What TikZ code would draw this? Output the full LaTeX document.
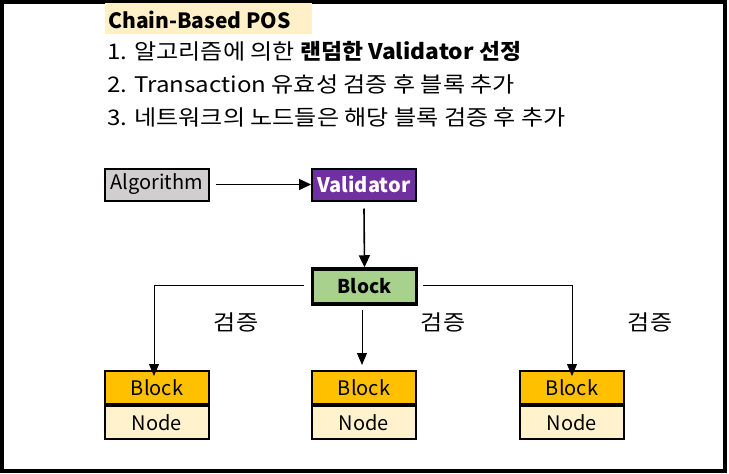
\documentclass[tikz,border=0pt]{standalone}
\usepackage{fontspec}
\setmainfont{Noto Sans CJK KR}
\newfontfamily\widefont[FakeStretch=1.12]{Noto Sans CJK KR}
\newfontfamily\semiwidefont[FakeStretch=1.06]{Noto Sans CJK KR}
\usetikzlibrary{arrows.meta}
\definecolor{titlebg}{HTML}{FFF0C8}
\definecolor{algbg}{HTML}{D0CECE}
\definecolor{valbg}{HTML}{7030A0}
\definecolor{blkbg}{HTML}{A9D18E}
\definecolor{orgbg}{HTML}{FFC000}
\definecolor{nodebg}{HTML}{FFF2CC}
\tikzset{
  txt/.style={font=\widefont\fontsize{21.5}{24}\selectfont, inner sep=0pt, anchor=base west},
  boxtxt/.style={font=\fontsize{20}{22}\selectfont},
  topbox/.style={draw=black, line width=2pt, minimum width=104pt, minimum height=32pt, inner sep=0pt, boxtxt},
  lowbox/.style={draw=black, line width=2pt, minimum width=104pt, minimum height=33pt, inner sep=0pt, boxtxt},
  bigarrow/.style={line width=1.6pt, -{Triangle[length=12pt,width=11pt]}},
  thinarrow/.style={line width=1pt, -{Triangle[length=12pt,width=10pt]}},
  lbl/.style={font=\widefont\fontsize{21.5}{24}\selectfont, inner sep=0pt}
}
\begin{document}
\begin{tikzpicture}[x=1pt,y=-1pt]
\useasboundingbox (0,0) rectangle (729,474);
\draw[line width=4pt] (2,2) rectangle (725,471);
% title
\node[fill=titlebg, anchor=north west, minimum width=207pt, minimum height=31pt, inner sep=0pt] (titlebox) at (105,3) {};
\node[inner sep=0pt, anchor=base west, font=\fontsize{21}{24}\selectfont\bfseries] (title) at (108,28) {Chain-Based POS};
\node[txt] (l1) at (107,59) {1. 알고리즘에 의한 {\semiwidefont\bfseries 랜덤한 Validator 선정}};
\node[txt] (l2) at (107,92) {2. Transaction 유효성 검증 후 블록 추가};
\node[txt] (l3) at (107,125) {3. 네트워크의 노드들은 해당 블록 검증 후 추가};
% flow
\node[topbox, fill=algbg] (alg) at (156.5,184.5) {Algorithm};
\node[topbox, fill=valbg, text=white, font=\fontsize{20}{22}\selectfont\bfseries] (val) at (364,184.5) {Validator};
\node[topbox, fill=blkbg, line width=3.5pt, minimum height=35pt, font=\fontsize{19}{22}\selectfont\bfseries] (blk) at (364.5,286.5) {Block};
\draw[bigarrow] (alg.east) ++(6,0) coordinate (a1) -- (val.west);
\draw[bigarrow] (val.south) ++(0,7) coordinate (v1) -- (blk.north);
% bottom boxes
\foreach \n/\x in {1/157, 2/364, 3/572}{
  \node[lowbox, fill=orgbg, anchor=south] (b\n) at (\x,405) {Block};
  \node[lowbox, fill=nodebg, anchor=north] (n\n) at (\x,405) {Node};
}
\coordinate (lstart) at (304,285);
\coordinate (rstart) at (423,285);
\draw[thinarrow] (lstart) -| ([yshift=-6pt]b1.north -| 154,0);
\draw[thinarrow] (rstart) -| ([yshift=-6pt]b3.north -| 572,0);
\coordinate (cstart) at (362,310);
\draw[thinarrow] (cstart) -- (362,365);
\node[lbl] (v1l) at (236,322) {검증};
\node[lbl] (v2l) at (443,322) {검증};
\node[lbl] (v3l) at (650,322) {검증};
\end{tikzpicture}
\end{document}
